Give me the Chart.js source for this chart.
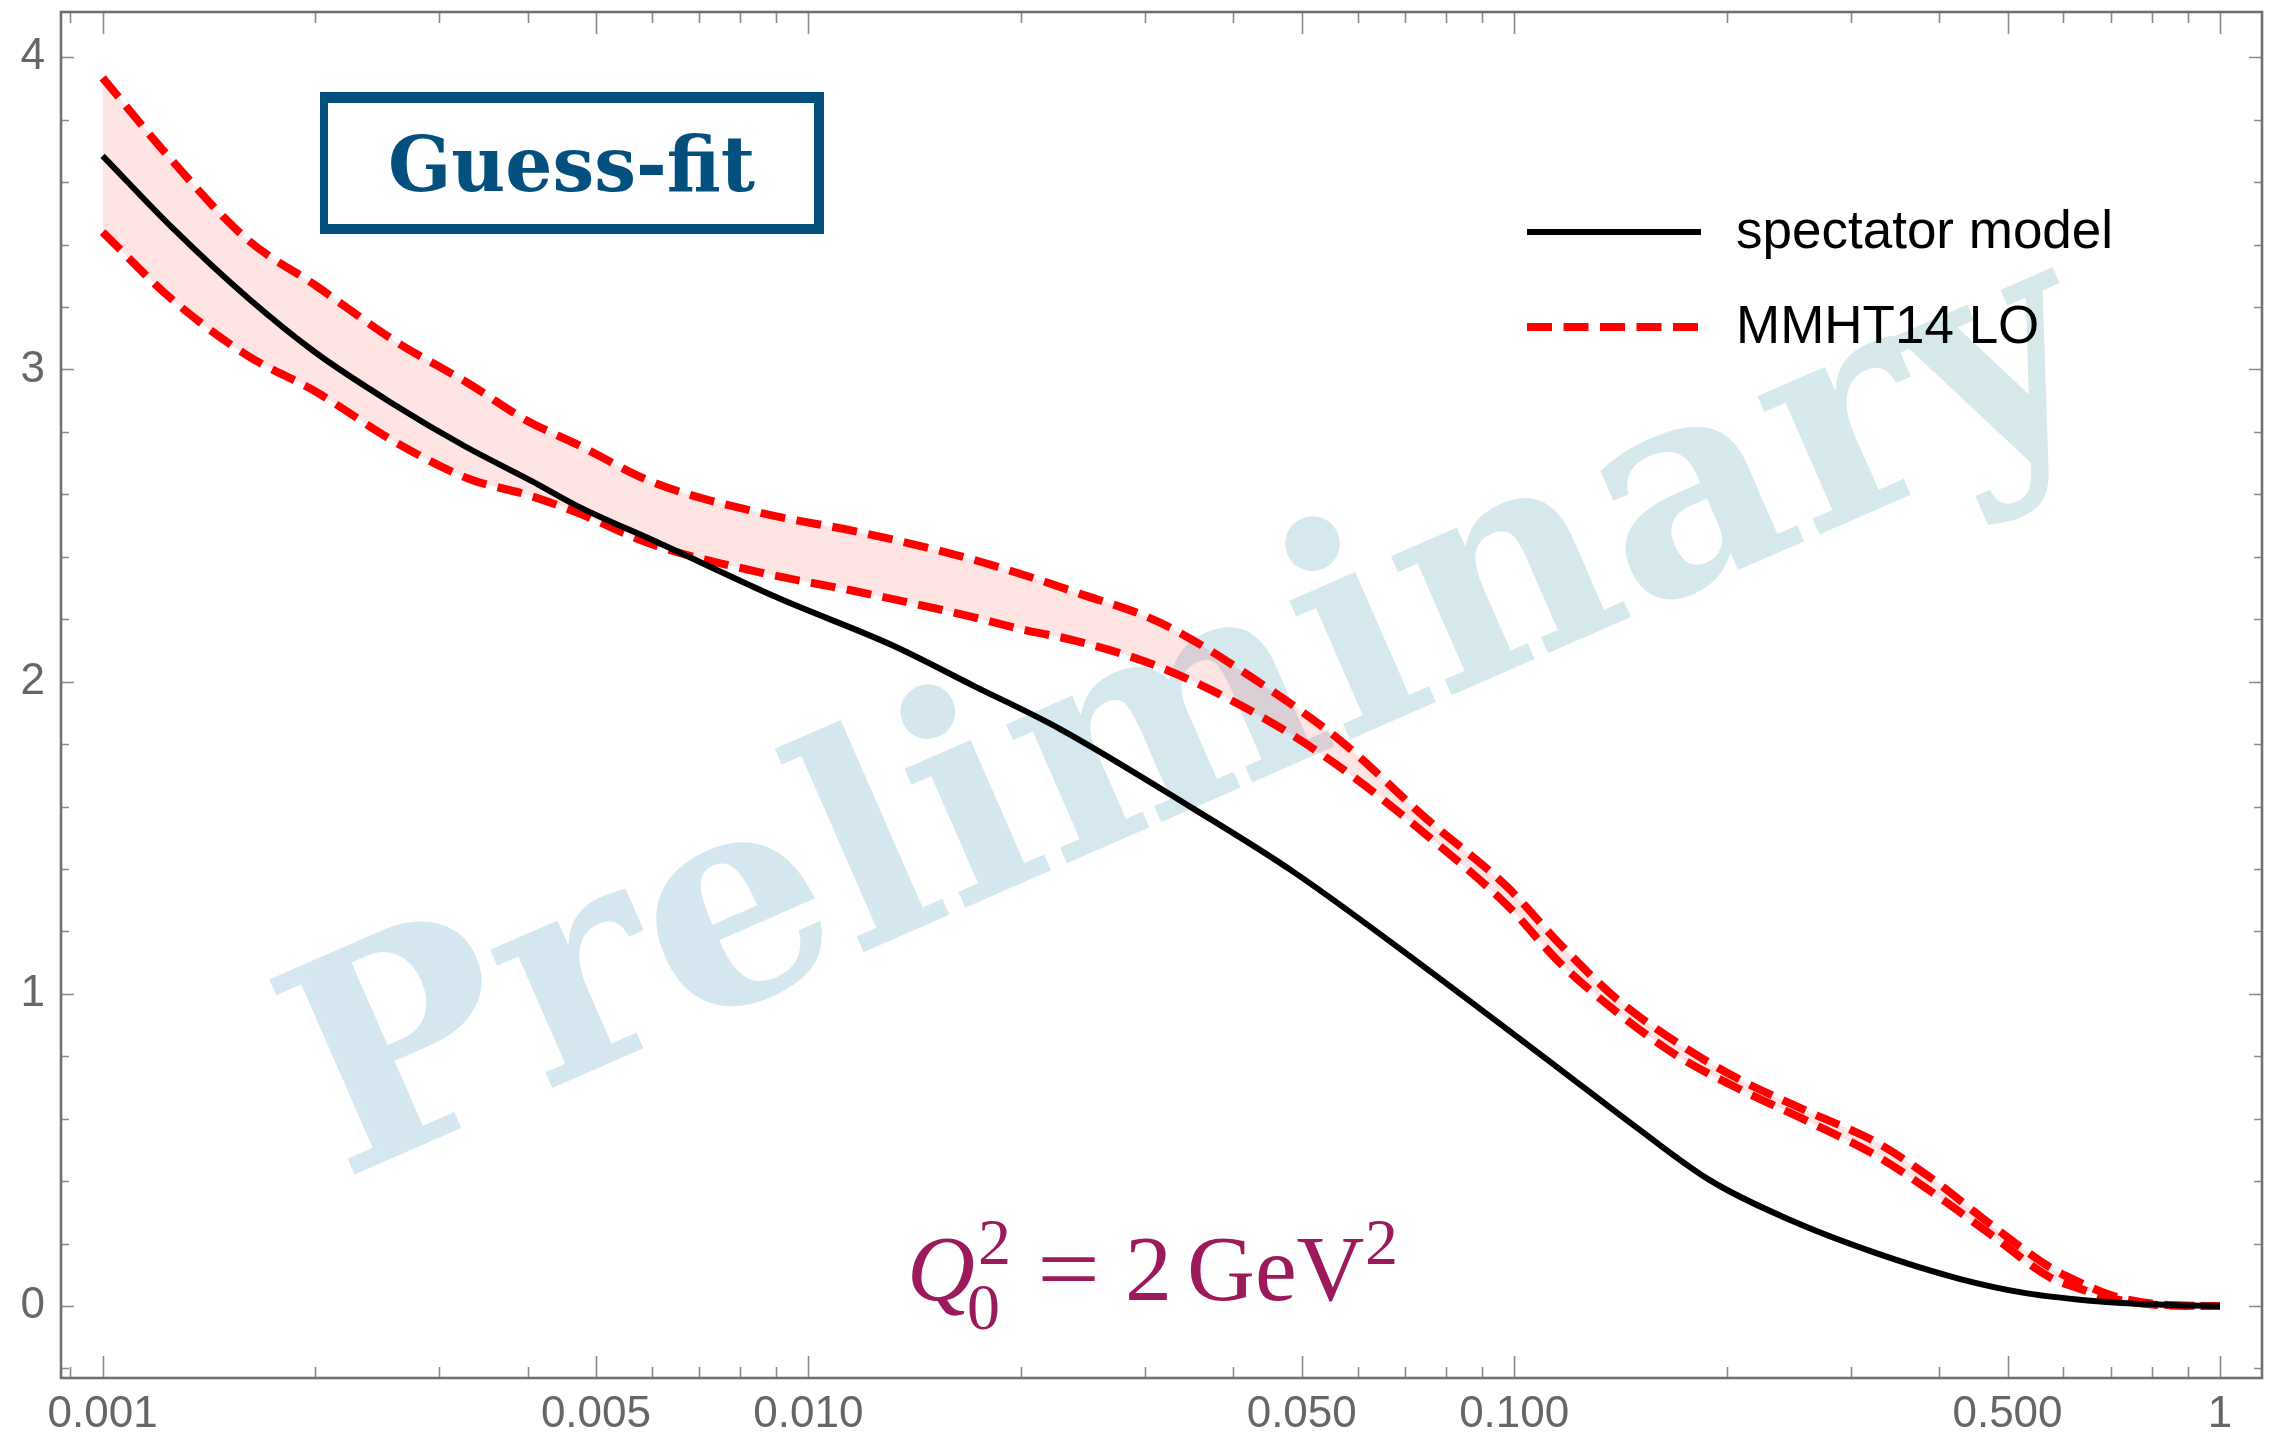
<!DOCTYPE html>
<html><head><meta charset="utf-8">
<script src="https://cdn.jsdelivr.net/npm/chart.js@4.4.1/dist/chart.umd.min.js"></script>
<style>html,body{margin:0;padding:0;background:#fff;overflow:hidden}#wrap{width:2274px;height:1435px;position:relative}</style>
</head><body><div id="wrap"><canvas id="c" width="2274" height="1435"></canvas></div>
<script>
// ---- data ----
const spectatorX = [0.001, 0.00126, 0.00161, 0.002, 0.00257, 0.00326, 0.00405, 0.0047, 0.0061, 0.0091, 0.0131, 0.0172, 0.0227, 0.035, 0.0485, 0.0747, 0.116, 0.149, 0.189, 0.248, 0.325, 0.426, 0.528, 0.628, 0.75, 0.9, 1];
const spectatorY = [3.684, 3.45, 3.227, 3.055, 2.892, 2.754, 2.643, 2.563, 2.447, 2.266, 2.118, 1.985, 1.849, 1.595, 1.393, 1.085, 0.759, 0.572, 0.404, 0.272, 0.170, 0.088, 0.042, 0.021, 0.008, 0.002, 0];
const mmhtX = [0.001, 0.00125, 0.0016, 0.002, 0.0026, 0.0033, 0.004, 0.0047, 0.006, 0.0085, 0.0118, 0.0163, 0.0203, 0.024, 0.0315, 0.0435, 0.057, 0.075, 0.098, 0.116, 0.14, 0.17, 0.208, 0.262, 0.325, 0.39, 0.474, 0.576, 0.628, 0.7, 0.8, 0.9, 1];
const mmhtUpper = [3.934, 3.673, 3.418, 3.270, 3.09, 2.955, 2.835, 2.76, 2.64, 2.542, 2.479, 2.404, 2.340, 2.285, 2.189, 1.998, 1.807, 1.562, 1.340, 1.16, 0.982, 0.844, 0.727, 0.621, 0.526, 0.409, 0.260, 0.122, 0.079, 0.035, 0.008, 0.001, 0];
const mmhtLower = [3.44, 3.227, 3.046, 2.930, 2.767, 2.650, 2.598, 2.542, 2.44, 2.351, 2.287, 2.218, 2.165, 2.13, 2.046, 1.892, 1.722, 1.510, 1.281, 1.10, 0.940, 0.802, 0.696, 0.589, 0.483, 0.366, 0.228, 0.090, 0.058, 0.025, 0.005, 0.001, 0];
const seriesLabels = ['spectator model', 'MMHT14 LO'];

const xMajorTicks = [0.001, 0.005, 0.01, 0.05, 0.1, 0.5, 1];
const xTickLabels = ['0.001', '0.005', '0.010', '0.050', '0.100', '0.500', '1'];
const xMinorTicks = [0.0009, 0.002, 0.003, 0.004, 0.006, 0.007, 0.008, 0.009, 0.02, 0.03, 0.04, 0.06, 0.07, 0.08, 0.09, 0.2, 0.3, 0.4, 0.6, 0.7, 0.8, 0.9];
const yMajorTicks = [0, 1, 2, 3, 4];
const yTickLabels = ['0', '1', '2', '3', '4'];
const yMinorTicks = [-0.2, 0.2, 0.4, 0.6, 0.8, 1.2, 1.4, 1.6, 1.8, 2.2, 2.4, 2.6, 2.8, 3.2, 3.4, 3.6, 3.8];

const annotationTitle = 'Guess-fit';
const watermarkText = 'Preliminary';

const toPts = (xs, ys) => xs.map((x, i) => ({x: x, y: ys[i]}));

const RED = '#ff0000';
const DASH = [25, 11.5];

// ---- plugins ----
const watermarkPlugin = {
  id: 'watermark',
  beforeDatasetsDraw(chart) {
    const ctx = chart.ctx, a = chart.chartArea;
    ctx.save();
    ctx.beginPath(); ctx.rect(a.left, a.top, a.right - a.left, a.bottom - a.top); ctx.clip();
    ctx.translate(a.left + 281, a.top + 1168);
    ctx.rotate(-23.6 * Math.PI / 180);
    const g = ctx.createLinearGradient(0, 0, 1940, 0);
    g.addColorStop(0, '#d4e7f2');
    g.addColorStop(1, '#d6e9ea');
    ctx.fillStyle = g;
    ctx.font = 'bold 292px "DejaVu Serif"';
    ctx.textAlign = 'left';
    ctx.textBaseline = 'alphabetic';
    ctx.fillText(watermarkText, 0, 0, 1940);
    ctx.restore();
  }
};

const framePlugin = {
  id: 'frameTicks',
  afterDatasetsDraw(chart) {
    const ctx = chart.ctx, a = chart.chartArea;
    const xs = chart.scales.x, ys = chart.scales.y;
    ctx.save();
    ctx.strokeStyle = '#8a8a8a';
    ctx.lineWidth = 1.6;
    const vt = (v, len) => {
      const p = Math.round(xs.getPixelForValue(v)) + 0.5;
      ctx.beginPath();
      ctx.moveTo(p, a.bottom); ctx.lineTo(p, a.bottom - len);
      ctx.moveTo(p, a.top); ctx.lineTo(p, a.top + len);
      ctx.stroke();
    };
    const ht = (v, len) => {
      const p = Math.round(ys.getPixelForValue(v)) + 0.5;
      ctx.beginPath();
      ctx.moveTo(a.left, p); ctx.lineTo(a.left + len, p);
      ctx.moveTo(a.right, p); ctx.lineTo(a.right - len, p);
      ctx.stroke();
    };
    xMajorTicks.forEach(v => vt(v, 22));
    xMinorTicks.forEach(v => vt(v, 11));
    yMajorTicks.forEach(v => ht(v, 13));
    yMinorTicks.forEach(v => ht(v, 8));
    ctx.strokeStyle = '#707070';
    ctx.lineWidth = 2.6;
    ctx.strokeRect(a.left, a.top, a.right - a.left, a.bottom - a.top);
    ctx.restore();
  }
};

const decorPlugin = {
  id: 'decor',
  afterDraw(chart) {
    const ctx = chart.ctx, a = chart.chartArea;
    const ds = chart.data.datasets;
    ctx.save();
    // legend
    const lx = a.left + 1466, lw = 174, tx = a.left + 1675;
    const rows = [{y: a.top + 220, ds: ds[0], label: seriesLabels[0]}, {y: a.top + 315, ds: ds[1], label: seriesLabels[1]}];
    rows.forEach(r => {
      ctx.strokeStyle = r.ds.borderColor;
      ctx.lineWidth = r.ds.borderWidth;
      ctx.setLineDash(r.ds.borderDash || []);
      ctx.lineCap = 'butt';
      ctx.beginPath(); ctx.moveTo(lx, r.y); ctx.lineTo(lx + lw, r.y); ctx.stroke();
      ctx.setLineDash([]);
      ctx.fillStyle = '#000';
      ctx.font = '53px "Liberation Sans", Arial, sans-serif';
      ctx.textAlign = 'left'; ctx.textBaseline = 'middle';
      ctx.fillText(r.label, tx, r.y + 1);
    });
    // Guess-fit stamp
    const bx = a.left + 259, by = a.top + 80, bw = 504, bh = 142;
    ctx.fillStyle = '#03507f';
    ctx.fillRect(bx, by, bw, 11);
    ctx.fillRect(bx, by + bh - 10, bw, 10);
    ctx.fillRect(bx, by, 8, bh);
    ctx.fillRect(bx + bw - 10, by, 10, bh);
    ctx.font = 'bold 77px "DejaVu Serif"';
    ctx.textAlign = 'left'; ctx.textBaseline = 'alphabetic';
    ctx.fillText(annotationTitle, a.left + 327, a.top + 179, 367);
    // Q0^2 = 2 GeV^2
    const qc = '#9c1a5b';
    const base = a.top + 1288, x0 = a.left + 846;
    const big = '94px "Liberation Serif", "Times New Roman", serif';
    const small = '66px "Liberation Serif", "Times New Roman", serif';
    ctx.fillStyle = qc;
    ctx.font = 'italic ' + big;
    ctx.fillText('Q', x0, base);
    ctx.font = small;
    ctx.fillText('0', x0 + 60, base + 29);
    ctx.fillText('2', x0 + 71, base - 36);
    ctx.font = big;
    ctx.save();
    ctx.translate(x0 + 130, base);
    ctx.scale(1.19, 1);
    ctx.fillText('=', 0, 0);
    ctx.restore();
    ctx.fillText('2', x0 + 218, base);
    ctx.fillText('GeV', x0 + 280, base);
    ctx.font = small;
    ctx.fillText('2', x0 + 458, base - 36);
    ctx.restore();
  }
};

const tickFont = {family: '"Liberation Sans", Arial, sans-serif', size: 44};
const zeroPad = s => { s.paddingTop = 0; s.paddingBottom = 0; s.paddingLeft = 0; s.paddingRight = 0; };

new Chart(document.getElementById('c'), {
  type: 'line',
  data: {
    datasets: [
      {label: seriesLabels[0], data: toPts(spectatorX, spectatorY), borderColor: '#000000', borderWidth: 6,
       pointRadius: 0, cubicInterpolationMode: 'monotone', fill: false},
      {label: seriesLabels[1], data: toPts(mmhtX, mmhtUpper), borderColor: RED, borderWidth: 8, borderDash: DASH,
       pointRadius: 0, cubicInterpolationMode: 'monotone', fill: '+1', backgroundColor: 'rgba(255,0,0,0.105)'},
      {label: seriesLabels[1] + ' (lower)', data: toPts(mmhtX, mmhtLower), borderColor: RED, borderWidth: 8, borderDash: DASH,
       pointRadius: 0, cubicInterpolationMode: 'monotone', fill: false}
    ]
  },
  options: {
    responsive: false,
    animation: false,
    devicePixelRatio: 1,
    layout: {padding: {left: 0, top: 12, right: 12, bottom: 0}},
    plugins: {legend: {display: false}, tooltip: {enabled: false}},
    scales: {
      x: {
        type: 'logarithmic', min: 0.000873, max: 1.147,
        grid: {display: false, drawTicks: false}, border: {display: false},
        afterBuildTicks: s => { s.ticks = xMajorTicks.map(v => ({value: v})); },
        afterFit: s => { s.height = 57; zeroPad(s); },
        ticks: {autoSkip: false, maxRotation: 0, minRotation: 0, padding: 10, color: '#666666', font: tickFont,
          callback: (v) => { const i = xMajorTicks.findIndex(t => Math.abs(t - v) < 1e-9); return i >= 0 ? xTickLabels[i] : ''; }}
      },
      y: {
        type: 'linear', min: -0.2306, max: 4.145,
        grid: {display: false, drawTicks: false}, border: {display: false},
        afterBuildTicks: s => { s.ticks = yMajorTicks.map(v => ({value: v})); },
        afterFit: s => { s.width = 61; zeroPad(s); },
        ticks: {padding: 16, color: '#666666', font: tickFont,
          callback: (v) => { const i = yMajorTicks.indexOf(v); return i >= 0 ? yTickLabels[i] : ''; }}
      }
    }
  },
  plugins: [watermarkPlugin, framePlugin, decorPlugin]
});
</script></body></html>
